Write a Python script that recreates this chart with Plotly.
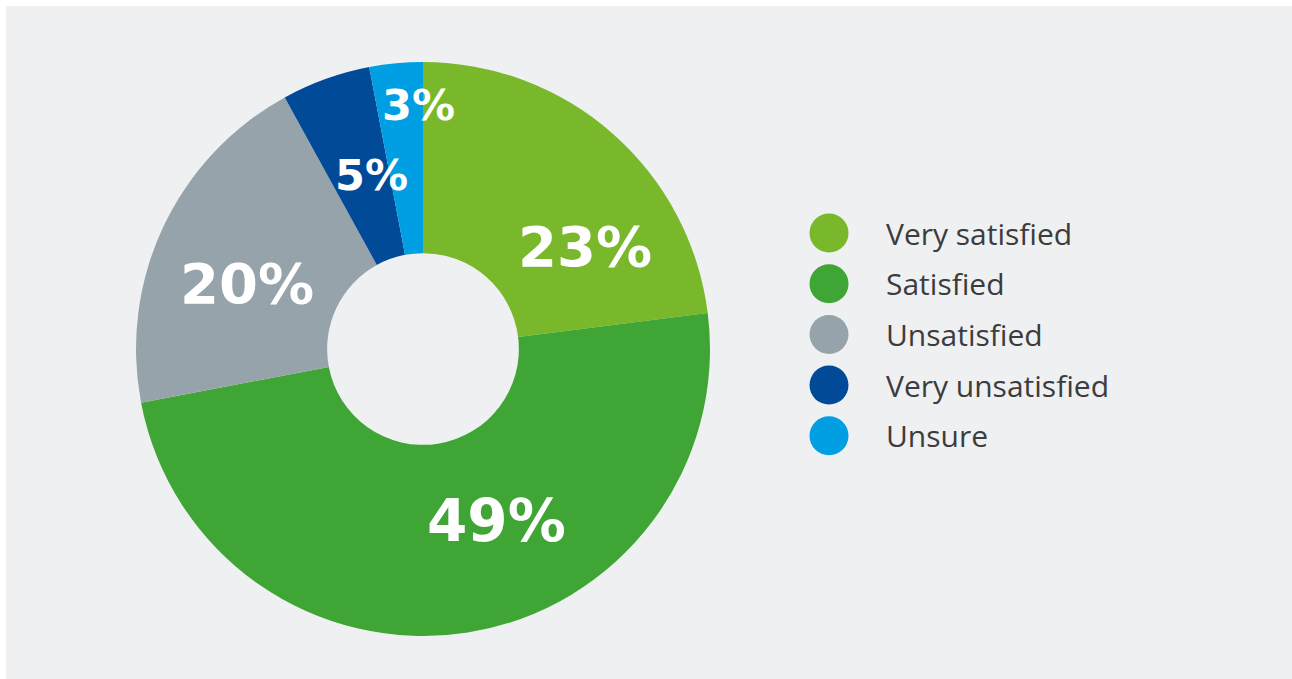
import plotly.graph_objects as go

# ---- data ----
categories = ["Very satisfied", "Satisfied", "Unsatisfied", "Very unsatisfied", "Unsure"]
values = [23, 49, 20, 5, 3]
colors = ["#7ab82b", "#3fa535", "#97a3ab", "#004a98", "#009fe3"]

# ---- layout helpers (pixel coordinates of canvas 1292x679) ----
W, H = 1292, 679
cx, cy, R = 423, 349, 287
label_pos = [(585, 246), (496, 521), (247, 283), (371, 175), (418, 105)]
label_size = [56, 58, 56, 43, 43]
legend_x, legend_y0, legend_dy = 829, 233, 50.7

fig = go.Figure()

fig.add_trace(go.Pie(
    labels=categories,
    values=values,
    marker=dict(colors=colors, line=dict(width=0)),
    sort=False,
    direction="clockwise",
    rotation=0,
    hole=0.334,
    textinfo="none",
    hoverinfo="label+percent",
    showlegend=False,
    domain=dict(x=[(cx - R) / W, (cx + R) / W], y=[(H - cy - R) / H, (H - cy + R) / H]),
))

# custom legend: circle markers
leg_y = [legend_y0 + i * legend_dy for i in range(len(categories))]
fig.add_trace(go.Scatter(
    x=[legend_x] * len(categories),
    y=leg_y,
    mode="markers",
    marker=dict(size=39, color=colors, line=dict(width=0)),
    hoverinfo="skip",
    showlegend=False,
))

annotations = []
for cat, y in zip(categories, leg_y):
    annotations.append(dict(
        x=884, y=y, xref="x", yref="y", text=cat, showarrow=False,
        xanchor="left", yanchor="middle",
        font=dict(family="Open Sans", size=30, color="#3c3c3c"),
    ))
for v, (lx, ly), s in zip(values, label_pos, label_size):
    annotations.append(dict(
        x=lx, y=ly, xref="x", yref="y", text=f"{v}%", showarrow=False,
        xanchor="center", yanchor="middle",
        font=dict(family="DejaVu Sans", size=s, color="white", weight="bold"),
    ))

fig.update_layout(
    width=W, height=H,
    margin=dict(l=0, r=0, t=0, b=0),
    paper_bgcolor="white",
    plot_bgcolor="rgba(0,0,0,0)",
    xaxis=dict(range=[0, W], visible=False, domain=[0, 1], fixedrange=True),
    yaxis=dict(range=[H, 0], visible=False, domain=[0, 1], fixedrange=True),
    shapes=[dict(type="rect", xref="x", yref="y", x0=6, y0=6, x1=W, y1=H,
                 fillcolor="#eff0f2", line=dict(width=0), layer="below")],
    annotations=annotations,
)

fig.write_html(
    "out.html",
    config={"displayModeBar": False},
    post_script="document.body.style.margin='0';document.body.style.overflow='hidden';",
)
